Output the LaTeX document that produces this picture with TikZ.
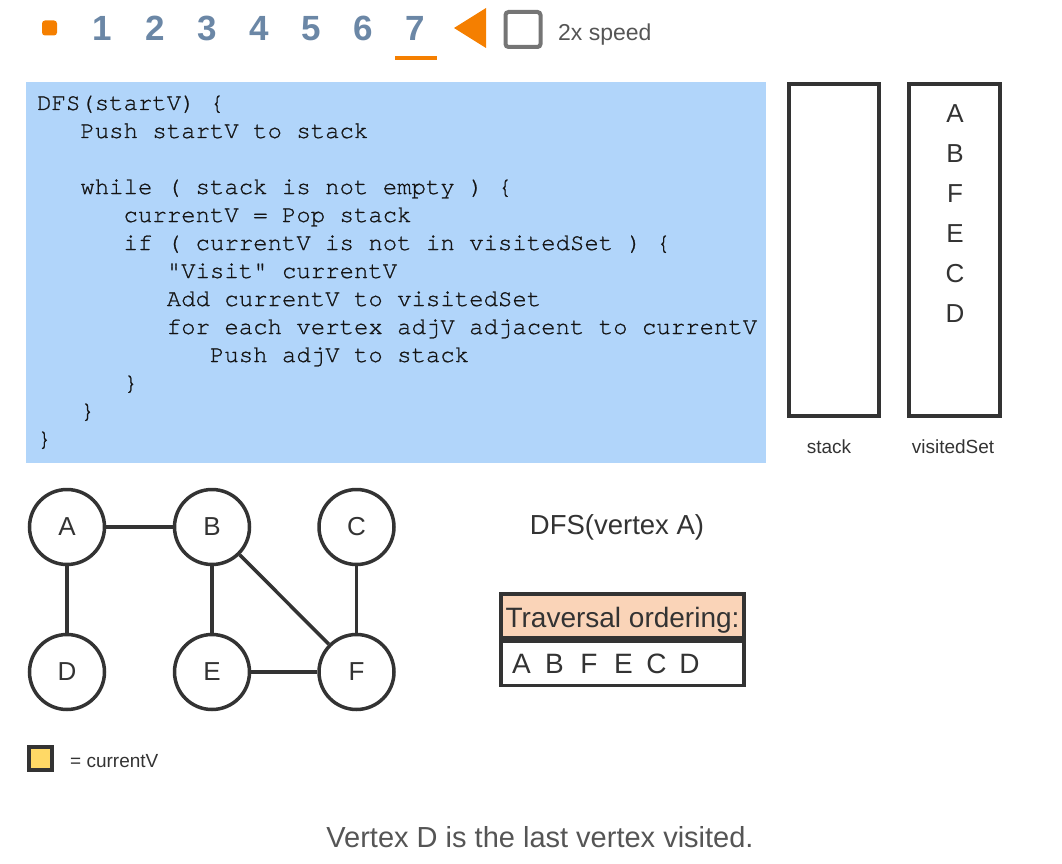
\documentclass[tikz,border=0pt]{standalone}
\usepackage{fontspec}
\setmainfont{Liberation Sans}
\setmonofont{TeX Gyre Cursor}[FakeBold=0.8]
\definecolor{dk}{HTML}{333333}
\definecolor{numc}{HTML}{6B87A6}
\definecolor{orng}{HTML}{F57F00}
\definecolor{chk}{HTML}{757575}
\definecolor{txtg}{HTML}{555555}
\definecolor{codebg}{HTML}{B1D5FA}
\definecolor{peach}{HTML}{FAD4B8}
\definecolor{yel}{HTML}{FFD966}
\begin{document}
\begin{tikzpicture}[x=1pt,y=-1pt,
  vtx/.style={circle, draw=dk, line width=3.5pt, minimum size=75pt, inner sep=0pt, text=dk, font=\fontsize{26}{30}\selectfont},
  edge/.style={draw=dk, line width=3.5pt},
  numbtn/.style={anchor=base, inner sep=0pt, text=numc, font=\bfseries\fontsize{35}{40}\selectfont},
  codeln/.style={anchor=base west, inner sep=0pt, text=black!92, font=\ttfamily\fontsize{24}{28}\selectfont},
  tallbox/.style={draw=dk, line width=4pt},
  vsl/.style={anchor=base, inner sep=0pt, text=dk, font=\fontsize{26}{30}\selectfont},
  smlbl/.style={anchor=base, inner sep=0pt, text=dk, font=\fontsize{19}{22}\selectfont}
]
\useasboundingbox (0,0) rectangle (1062,864);

% top controls
\node[fill=orng, rounded corners=3pt, minimum size=15pt, inner sep=0pt] (stopbtn) at (49.5,28) {};
\node[numbtn] (n1) at (102,41) {1};
\node[numbtn] (n2) at (155,41) {2};
\node[numbtn] (n3) at (207,41) {3};
\node[numbtn] (n4) at (259,41) {4};
\node[numbtn] (n5) at (311,41) {5};
\node[numbtn] (n6) at (363,41) {6};
\node[numbtn] (n7) at (415,41) {7};
\fill[orng] (395,56) rectangle (437,60);
\fill[orng] (454,28) -- (486,8) -- (486,48) -- cycle;
\node[draw=chk, line width=4pt, rounded corners=3pt, minimum size=35pt, inner sep=0pt] (chkbox) at (523,29.5) {};
\node[anchor=base west, inner sep=0pt, text=txtg, font=\fontsize{23}{26}\selectfont] (speed) at (558,41) {2x speed};

% code box
\fill[codebg] (26,82) rectangle (766,463);
\node[codeln] (c1) at (37,110) {DFS(startV) \{};
\node[codeln] (c2) at (80.2,138) {Push startV to stack};
\node[codeln] (c3) at (80.2,194) {while ( stack is not empty ) \{};
\node[codeln] (c4) at (123.4,222) {currentV = Pop stack};
\node[codeln] (c5) at (123.4,250) {if ( currentV is not in visitedSet ) \{};
\node[codeln] (c6) at (166.6,278) {"Visit" currentV};
\node[codeln] (c7) at (166.6,306) {Add currentV to visitedSet};
\node[codeln] (c8) at (166.6,334) {for each vertex adjV adjacent to currentV};
\node[codeln] (c9) at (209.8,362) {Push adjV to stack};
\node[codeln] (c10) at (123.4,390) {\}};
\node[codeln] (c11) at (80.2,418) {\}};
\node[codeln] (c12) at (37,446) {\}};

% stack and visited set
\node[tallbox, minimum width=90pt, minimum height=332pt, inner sep=0pt] (stackbox) at (834,250) {};
\node[tallbox, minimum width=91pt, minimum height=332pt, inner sep=0pt] (visbox) at (954.5,250) {};
\node[vsl] (va) at (955,122) {A};
\node[vsl] (vb) at (955,162) {B};
\node[vsl] (vf) at (955,202) {F};
\node[vsl] (ve) at (955,242) {E};
\node[vsl] (vc) at (955,282) {C};
\node[vsl] (vd) at (955,322) {D};
\node[smlbl] (stacklbl) at (829,453) {stack};
\node[smlbl] (vislbl) at (953,453) {visitedSet};

% graph
\node[vtx] (A) at (67,527) {A};
\node[vtx] (B) at (212,527) {B};
\node[vtx] (C) at (356.5,527) {C};
\node[vtx] (D) at (67,672) {D};
\node[vtx] (E) at (212,672) {E};
\node[vtx] (F) at (356.5,672) {F};
\draw[edge] (A) -- (B);
\draw[edge] (A) -- (D);
\draw[edge] (B) -- (E);
\draw[edge] (B) -- (F);
\draw[edge] (C) -- (F);
\draw[edge] (E) -- (F);

% DFS title
\node[anchor=base, inner sep=0pt, text=dk, font=\fontsize{27.5}{30}\selectfont] (dfstitle) at (617,534) {DFS(vertex A)};

% traversal table
\node[draw=dk, fill=peach, line width=3.5pt, minimum width=243pt, minimum height=44pt, inner sep=0pt,
      text height=22pt, text depth=0pt, text=dk, font=\fontsize{28}{30}\selectfont] (hdr) at (622.5,616) {Traversal ordering:};
\node[draw=dk, line width=3.5pt, minimum width=243pt, minimum height=44pt, inner sep=0pt,
      text height=20pt, text depth=0pt, text=dk, font=\fontsize{28}{30}\selectfont, anchor=north] (row) at (hdr.south)
      {\makebox[243pt][l]{\hspace{4pt}\makebox[33pt]{A}\makebox[33pt]{B}\makebox[36pt]{F}\makebox[33pt]{E}\makebox[33pt]{C}\makebox[33pt]{D}}};

% legend
\node[draw=dk, fill=yel, line width=3.5pt, minimum width=23pt, minimum height=23pt, inner sep=0pt] (legbox) at (40.5,758.5) {};
\node[anchor=base west, inner sep=0pt, text=dk, font=\fontsize{19}{22}\selectfont] (legtxt) at (70,767) {= currentV};

% caption
\node[anchor=base, inner sep=0pt, text=txtg, font=\fontsize{29}{32}\selectfont] (caption) at (540,847) {Vertex D is the last vertex visited.};
\end{tikzpicture}
\end{document}
